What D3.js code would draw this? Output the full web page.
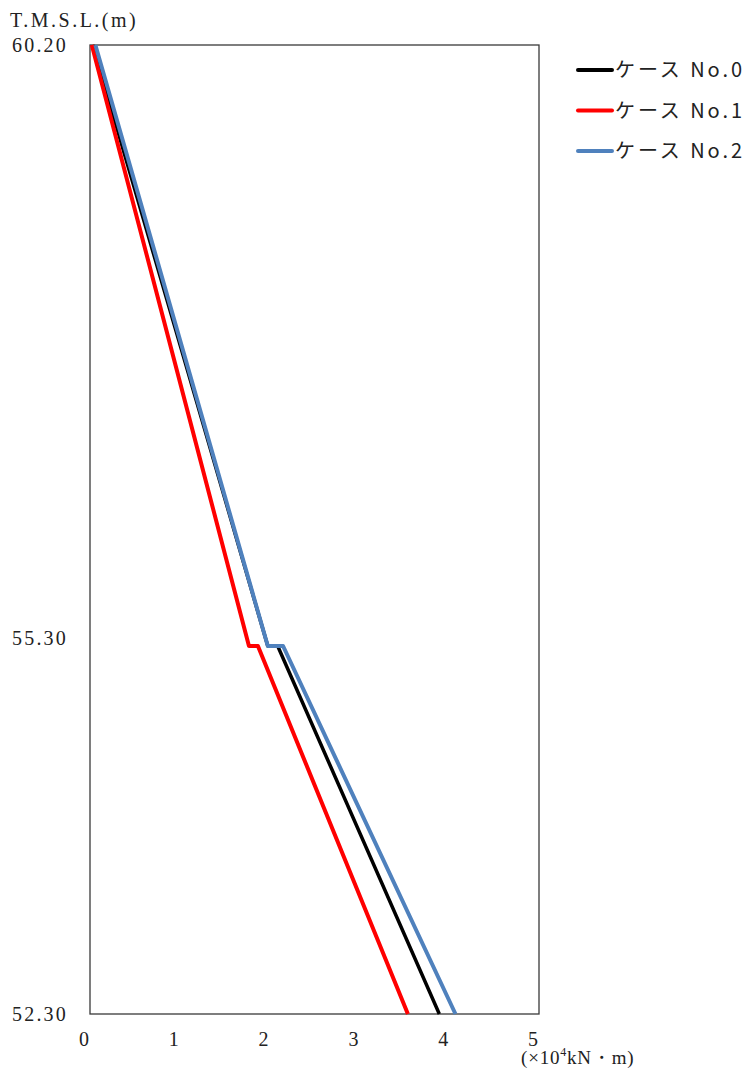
<!DOCTYPE html>
<html>
<head>
<meta charset="utf-8">
<script src="https://cdn.jsdelivr.net/npm/d3@7"></script>
<style>
  html, body { margin: 0; padding: 0; background: #fff; }
  svg { display: block; }
  .num { font-family: "Liberation Serif", "DejaVu Serif", serif; fill: #222; }
  .jp { font-family: "Noto Sans CJK JP", "Liberation Serif", serif; fill: #222; }
</style>
</head>
<body>
<svg id="chart" width="747" height="1068"></svg>
<script>
// ---- data ----
const seriesNames = ["ケース No.0", "ケース No.1", "ケース No.2"];
const seriesColors = ["#000000", "#FF0000", "#4F81BD"];
const elevations = [60.20, 55.30, 55.30, 52.30];
const case0 = [0.03, 1.98, 2.09, 3.89];
const case1 = [0.02, 1.77, 1.87, 3.54];
const case2 = [0.06, 1.98, 2.15, 4.07];
const xTicks = [0, 1, 2, 3, 4, 5];
const yTicks = [60.20, 55.30, 52.30];
const yTickLabels = ["60.20", "55.30", "52.30"];
const yTitle = "T.M.S.L.(m)";

const svg = d3.select("#chart");
const pL = 90, pR = 539, pT = 45, pB = 1014;

const x = d3.scaleLinear().domain([0, 5]).range([pL, pR]);
const y = d3.scaleLinear().domain([52.30, 60.20]).range([pB, pT]);

// frame
svg.append("rect")
  .attr("x", pL).attr("y", pT)
  .attr("width", pR - pL).attr("height", pB - pT)
  .attr("fill", "none").attr("stroke", "#3a3a3a").attr("stroke-width", 1.3);

// x tick labels
svg.append("g").selectAll("text").data(xTicks).join("text")
  .attr("class", "num")
  .attr("x", d => x(d) - 6)
  .attr("y", 1046)
  .attr("text-anchor", "middle")
  .attr("font-size", 20)
  .text(d => d);

// y tick labels
svg.append("g").selectAll("text").data(yTicks).join("text")
  .attr("class", "num")
  .attr("x", 68)
  .attr("y", (d, i) => y(d) + (i === 1 ? -1 : 7))
  .attr("text-anchor", "end")
  .attr("font-size", 20)
  .attr("letter-spacing", 2.2)
  .text((d, i) => yTickLabels[i]);

// y title
svg.append("text")
  .attr("class", "num")
  .attr("x", 10).attr("y", 27)
  .attr("font-size", 20)
  .attr("letter-spacing", 2.5)
  .text(yTitle);

// x unit label
const unit = svg.append("text")
  .attr("class", "num")
  .attr("x", 521).attr("y", 1064)
  .attr("font-size", 19)
  .attr("letter-spacing", 0.8);
unit.append("tspan").text("(×10");
unit.append("tspan").attr("font-size", 12).attr("dy", -8).text("4");
unit.append("tspan").attr("dy", 8).text("kN・m)");

// lines
const data = [case0, case1, case2];
const line = d3.line()
  .x(d => x(d[0]))
  .y(d => y(d[1]));

svg.append("g").selectAll("path").data(data).join("path")
  .attr("d", vals => line(vals.map((v, i) => [v, elevations[i]])))
  .attr("fill", "none")
  .attr("stroke", (d, i) => seriesColors[i])
  .attr("stroke-width", (d, i) => i === 0 ? 3.5 : 4)
  .attr("stroke-linejoin", "round");

// legend
const leg = svg.append("g").selectAll("g").data(seriesNames).join("g")
  .attr("transform", (d, i) => `translate(0, ${70 + i * 40.5})`);
leg.append("line")
  .attr("x1", 578).attr("x2", 612)
  .attr("y1", 0).attr("y2", 0)
  .attr("stroke", (d, i) => seriesColors[i])
  .attr("stroke-width", 4)
  .attr("stroke-linecap", "round");
leg.append("text")
  .attr("class", "jp")
  .attr("x", 615).attr("y", 7)
  .attr("font-size", 20)
  .attr("textLength", 127)
  .text(d => d);
</script>
</body>
</html>
